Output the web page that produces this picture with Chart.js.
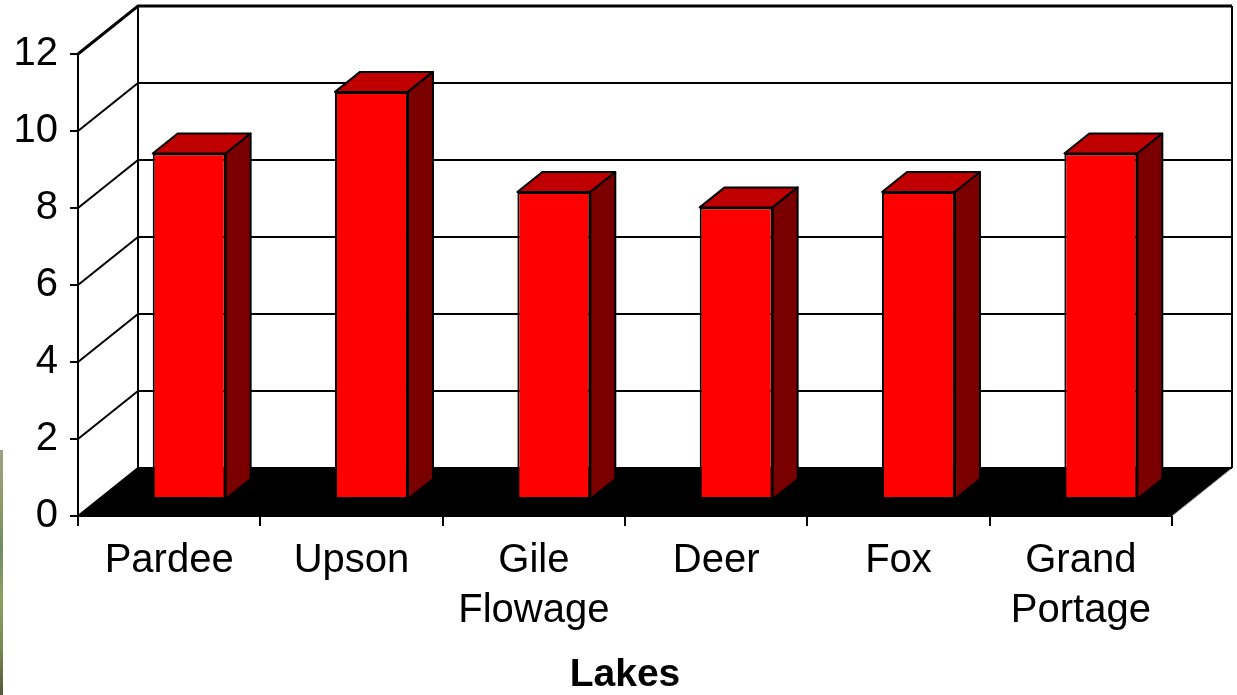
<!DOCTYPE html>
<html>
<head>
<meta charset="utf-8">
<title>Lakes</title>
<script src="https://cdn.jsdelivr.net/npm/chart.js@4.4.1/dist/chart.umd.min.js"></script>
<style>
  html, body { margin: 0; padding: 0; background: #fff; }
  #wrap { position: relative; width: 1237px; height: 695px; overflow: hidden; }
  #borde {
    position: absolute; left: 0; top: 450px; width: 3px; height: 245px;
    background: linear-gradient(#a0a088, #8c9a62 25%, #6f8a66 40%, #90a060 60%, #7a8a50 80%, #55583a);
  }
</style>
</head>
<body>
<div id="wrap">
  <canvas id="chartLagos" width="1237" height="695"></canvas>
  <div id="borde"></div>
</div>
<script>
const lagos = ['Pardee', 'Upson', ['Gile', 'Flowage'], 'Deer', 'Fox', ['Grand', 'Portage']];
const valores = [9, 10.6, 8, 7.6, 8, 9];
const ticksY = [0, 2, 4, 6, 8, 10, 12];

const fuente = '"Liberation Sans", Arial, sans-serif';

// profundidad de las paredes y de las barras (en pixeles)
const FONDO_X = 60, FONDO_Y = -48;
const FRENTE_BARRA_X = 20, FRENTE_BARRA_Y = -16;
const PROF_BARRA_X = 25, PROF_BARRA_Y = -20;

function linea(ctx, x1, y1, x2, y2) {
  ctx.beginPath();
  ctx.moveTo(x1, y1);
  ctx.lineTo(x2, y2);
  ctx.stroke();
}

const efecto3d = {
  id: 'efecto3d',
  beforeDatasetsDraw(chart) {
    const ctx = chart.ctx;
    const { left, right, top, bottom } = chart.chartArea;
    const escalaY = chart.scales.y;

    ctx.save();
    // piso negro
    ctx.fillStyle = '#000';
    ctx.beginPath();
    ctx.moveTo(left, bottom);
    ctx.lineTo(right, bottom);
    ctx.lineTo(right + FONDO_X, bottom + FONDO_Y);
    ctx.lineTo(left + FONDO_X, bottom + FONDO_Y);
    ctx.closePath();
    ctx.fill();
    ctx.strokeStyle = '#8a8a8a';
    ctx.lineWidth = 1;
    linea(ctx, right, bottom, right + FONDO_X, bottom + FONDO_Y);

    // lineas de la pared del fondo y de la pared izquierda
    ctx.strokeStyle = '#000';
    ctx.lineWidth = 2;
    ticksY.forEach(v => {
      const y = escalaY.getPixelForValue(v);
      linea(ctx, left + FONDO_X, y + FONDO_Y, right + FONDO_X, y + FONDO_Y);
      linea(ctx, left, y, left + FONDO_X, y + FONDO_Y);
    });
    linea(ctx, left + FONDO_X, top + FONDO_Y, left + FONDO_X, bottom + FONDO_Y);
    linea(ctx, right + FONDO_X, top + FONDO_Y, right + FONDO_X, bottom + FONDO_Y);

    // borde de arriba mas grueso
    ctx.lineWidth = 3;
    ctx.lineJoin = 'miter';
    ctx.beginPath();
    ctx.moveTo(left, top);
    ctx.lineTo(left + FONDO_X, top + FONDO_Y);
    ctx.lineTo(right + FONDO_X, top + FONDO_Y);
    ctx.stroke();
    ctx.restore();

    // las barras se dibujan un poco hacia adentro
    ctx.save();
    ctx.translate(FRENTE_BARRA_X, FRENTE_BARRA_Y);
  },
  afterDatasetsDraw(chart) {
    const ctx = chart.ctx;
    const meta = chart.getDatasetMeta(0);
    ctx.lineWidth = 2;
    ctx.lineJoin = 'round';
    ctx.strokeStyle = '#000';
    meta.data.forEach(barra => {
      const { x, y, base, width } = barra.getProps(['x', 'y', 'base', 'width'], true);
      const x0 = x - width / 2, x1 = x + width / 2;
      // tapa
      ctx.fillStyle = '#C00000';
      ctx.beginPath();
      ctx.moveTo(x0, y);
      ctx.lineTo(x1, y);
      ctx.lineTo(x1 + PROF_BARRA_X, y + PROF_BARRA_Y);
      ctx.lineTo(x0 + PROF_BARRA_X, y + PROF_BARRA_Y);
      ctx.closePath();
      ctx.fill();
      ctx.stroke();
      // costado
      ctx.fillStyle = '#7A0000';
      ctx.beginPath();
      ctx.moveTo(x1, y);
      ctx.lineTo(x1 + PROF_BARRA_X, y + PROF_BARRA_Y);
      ctx.lineTo(x1 + PROF_BARRA_X, base + PROF_BARRA_Y);
      ctx.lineTo(x1, base);
      ctx.closePath();
      ctx.fill();
      ctx.stroke();
    });
    ctx.restore();
  }
};

new Chart(document.getElementById('chartLagos').getContext('2d'), {
  type: 'bar',
  data: {
    labels: lagos,
    datasets: [{
      label: 'Lakes',
      data: valores,
      backgroundColor: '#FF0000',
      borderColor: '#000',
      borderWidth: 2,
      borderSkipped: false,
      barPercentage: 0.4,
      categoryPercentage: 1,
      clip: false
    }]
  },
  options: {
    responsive: false,
    animation: false,
    devicePixelRatio: 1,
    layout: { padding: { left: 0, right: 65, top: 54, bottom: 0 } },
    plugins: { legend: { display: false }, tooltip: { enabled: false } },
    scales: {
      x: {
        grid: { drawOnChartArea: false, offset: true, color: '#000', lineWidth: 2, tickLength: 10 },
        border: { color: '#000', width: 2 },
        ticks: {
          color: '#000', padding: 10, maxRotation: 0, autoSkip: false,
          font: { family: fuente, size: 40, lineHeight: 1.25 }
        },
        title: {
          display: true, text: 'Lakes', color: '#000',
          font: { family: fuente, size: 39, weight: 'bold', lineHeight: 1 },
          padding: { top: 0, bottom: 0 }
        },
        afterFit: escala => { escala.height = 179; }
      },
      y: {
        min: 0,
        max: 12,
        afterBuildTicks: escala => { escala.ticks = ticksY.map(v => ({ value: v })); },
        grid: { drawOnChartArea: false, color: '#000', lineWidth: 2, tickLength: 8 },
        border: { color: '#000', width: 2 },
        ticks: { color: '#000', padding: 12, font: { family: fuente, size: 40 } },
        afterFit: escala => { escala.width = 78; }
      }
    }
  },
  plugins: [efecto3d]
});
</script>
</body>
</html>
